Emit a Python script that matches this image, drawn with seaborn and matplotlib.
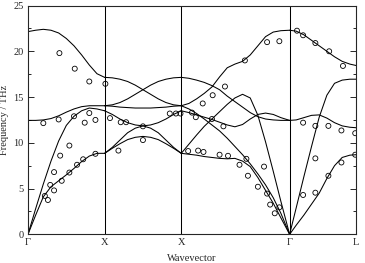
"""
Phonon dispersion along Gamma-X-X-Gamma-L with measured points
"""
import numpy as np
import pandas as pd
import matplotlib
matplotlib.use('Agg')
import matplotlib.pyplot as plt
from matplotlib.ticker import MultipleLocator

import seaborn as sns

# high-symmetry points, path length in units of 2pi/a
SYM_POS = [0.0, 1.0, 2.0, 3.414, 4.280]
SYM_LABELS = ['Γ', 'X', 'X', 'Γ', 'L']

# wavevector samples for each segment
q_gx = [0.0, 0.1, 0.2, 0.3, 0.4, 0.5, 0.6, 0.7, 0.8, 0.9, 1.0]
q_xx = [1.0, 1.1, 1.2, 1.3, 1.4, 1.5, 1.6, 1.7, 1.8, 1.9, 2.0]
q_xg = [2.0, 2.1, 2.2, 2.3, 2.4, 2.5, 2.6, 2.7, 2.8, 2.9, 3.0, 3.1, 3.2, 3.3, 3.414]
q_gl = [3.414, 3.5, 3.6, 3.7, 3.8, 3.9, 4.0, 4.1, 4.2, 4.28]

# calculated branches (THz)
gx_bands = [
    [22.15, 22.3, 22.4, 22.3, 22.0, 21.4, 20.6, 19.6, 18.5, 17.55, 17.15],
    [12.45, 12.45, 12.5, 12.65, 12.95, 13.35, 13.7, 13.95, 14.05, 14.05, 14.05],
    [0.0, 2.8, 5.5, 8.0, 10.2, 11.9, 12.9, 13.5, 13.8, 13.7, 13.5],
    [0.0, 2.1, 4.1, 5.2, 5.85, 6.5, 7.2, 7.95, 8.55, 8.85, 8.85],
]
xx_bands = [
    [8.85, 9.4, 9.9, 10.35, 10.6, 10.7, 10.6, 10.35, 9.9, 9.4, 8.85],
    [13.5, 13.1, 12.6, 12.2, 11.95, 11.85, 11.6, 11.1, 10.3, 9.5, 8.85],
    [8.85, 9.5, 10.3, 11.1, 11.6, 11.85, 11.95, 12.2, 12.6, 13.1, 13.5],
    [14.05, 14.0, 13.9, 13.85, 13.8, 13.8, 13.8, 13.85, 13.9, 14.0, 14.05],
    [14.05, 14.15, 14.4, 14.8, 15.3, 15.8, 16.3, 16.7, 16.95, 17.1, 17.15],
    [17.15, 17.1, 16.95, 16.7, 16.3, 15.8, 15.3, 14.8, 14.4, 14.15, 14.05],
]
xg_bands = [
    [14.05, 14.3, 14.8, 15.4, 16.1, 17.2, 18.2, 18.6, 18.9, 19.6, 20.6, 21.6, 22.1, 22.25, 22.3],
    [17.15, 17.05, 16.85, 16.6, 16.25, 15.8, 15.1, 14.5, 13.9, 13.3, 12.85, 12.6, 12.5, 12.45, 12.45],
    [13.5, 13.3, 13.05, 12.8, 12.55, 12.25, 11.95, 11.75, 12.0, 12.6, 13.1, 13.25, 13.1, 12.75, 12.45],
    [14.05, 13.7, 13.2, 12.6, 11.95, 11.3, 10.5, 9.6, 8.7, 7.7, 6.6, 5.4, 4.0, 2.3, 0.0],
    [8.85, 9.85, 10.85, 11.8, 12.6, 13.4, 14.2, 14.9, 15.3, 14.9, 13.0, 10.1, 6.9, 3.6, 0.0],
    [8.85, 8.75, 8.65, 8.5, 8.4, 8.3, 8.25, 8.3, 8.0, 7.4, 6.2, 4.8, 3.4, 1.8, 0.0],
]
gl_bands = [
    [22.3, 22.2, 21.8, 21.2, 20.6, 20.0, 19.4, 18.9, 18.6, 18.45],
    [12.45, 12.5, 12.75, 13.0, 13.05, 12.7, 12.2, 11.85, 11.7, 11.65],
    [0.0, 2.9, 6.3, 9.6, 12.8, 15.2, 16.5, 16.85, 16.95, 16.95],
    [0.0, 1.0, 2.1, 3.3, 4.5, 6.1, 7.5, 8.4, 8.65, 8.7],
]

# measured frequencies
exp_q = [0.41, 0.61, 0.80, 1.01,
         0.20, 0.40, 0.60, 0.80, 0.74, 0.88, 1.07, 1.21, 1.28,
         0.54, 0.42, 0.34, 0.29, 0.34, 0.22, 0.26, 0.44, 0.54, 0.64, 0.72, 0.88, 1.18,
         1.50, 1.50, 1.85, 1.93, 1.99,
         2.14, 2.19, 2.28, 2.41, 2.57, 2.83, 2.55, 2.40,
         2.09, 2.22, 2.29, 2.50, 2.61, 2.76, 2.85, 2.87, 3.08, 3.00, 3.12, 3.16, 3.28, 3.22,
         3.12, 3.28,
         3.51, 3.59, 3.75, 3.93, 4.11,
         3.59, 3.75, 3.92, 4.09, 4.27,
         3.59, 3.75, 3.92, 4.09, 4.27, 3.75]
exp_f = [19.8, 18.1, 16.7, 16.45,
         12.15, 12.55, 12.9, 13.25, 12.2, 12.5, 12.7, 12.25, 12.25,
         9.7, 8.6, 6.8, 5.4, 4.8, 4.2, 3.75, 5.85, 6.75, 7.6, 8.2, 8.8, 9.15,
         11.8, 10.3, 13.2, 13.2, 13.2,
         13.3, 12.8, 14.3, 15.2, 16.15, 19.0, 11.8, 12.6,
         9.1, 9.15, 9.0, 8.7, 8.58, 7.6, 8.25, 6.4, 7.4, 5.2, 4.45, 3.25, 2.95, 2.3,
         21.0, 21.1,
         22.25, 21.75, 20.9, 20.0, 18.4,
         12.2, 11.85, 11.85, 11.35, 11.05,
         4.3, 4.55, 6.4, 7.85, 8.7, 8.3]

sns.set_style('ticks')
plt.rcParams['font.family'] = ['Liberation Serif', 'DejaVu Serif']

fig = plt.figure(figsize=(3.65, 2.63), dpi=100)
ax = fig.add_axes([0.0767, 0.109, 0.8986, 0.870])

# curves, one segment at a time
for qs, bands in [(q_gx, gx_bands), (q_xx, xx_bands), (q_xg, xg_bands), (q_gl, gl_bands)]:
    for band in bands:
        sns.lineplot(x=qs, y=band, color='k', linewidth=0.75, estimator=None, ax=ax)

exp = pd.DataFrame({'q': exp_q, 'f': exp_f})
sns.scatterplot(data=exp, x='q', y='f', marker='o', s=13, facecolor='none',
                edgecolor='k', linewidth=0.6, ax=ax, zorder=3)

for pos in SYM_POS[1:-1]:
    ax.axvline(pos, color='k', linewidth=0.75)

ax.set_xlim(SYM_POS[0], SYM_POS[-1])
ax.set_ylim(0, 25)
ax.set_xticks(SYM_POS)
ax.set_xticklabels(SYM_LABELS)
ax.yaxis.set_major_locator(MultipleLocator(5))
ax.yaxis.set_minor_locator(MultipleLocator(2.5))
ax.tick_params(axis='x', length=0, labelsize=7.5, pad=3)
ax.tick_params(axis='y', which='both', direction='in', right=True, labelsize=7.5, pad=3)
ax.tick_params(axis='y', which='major', length=4, width=0.7)
ax.tick_params(axis='y', which='minor', length=2.5, width=0.7)
for sp in ax.spines.values():
    sp.set_linewidth(0.8)

ax.set_xlabel('Wavevector', fontsize=7.5, labelpad=5)
ax.set_ylabel('Frequency / THz', fontsize=7.5, labelpad=3)

fig.savefig('out.png', dpi=100)
